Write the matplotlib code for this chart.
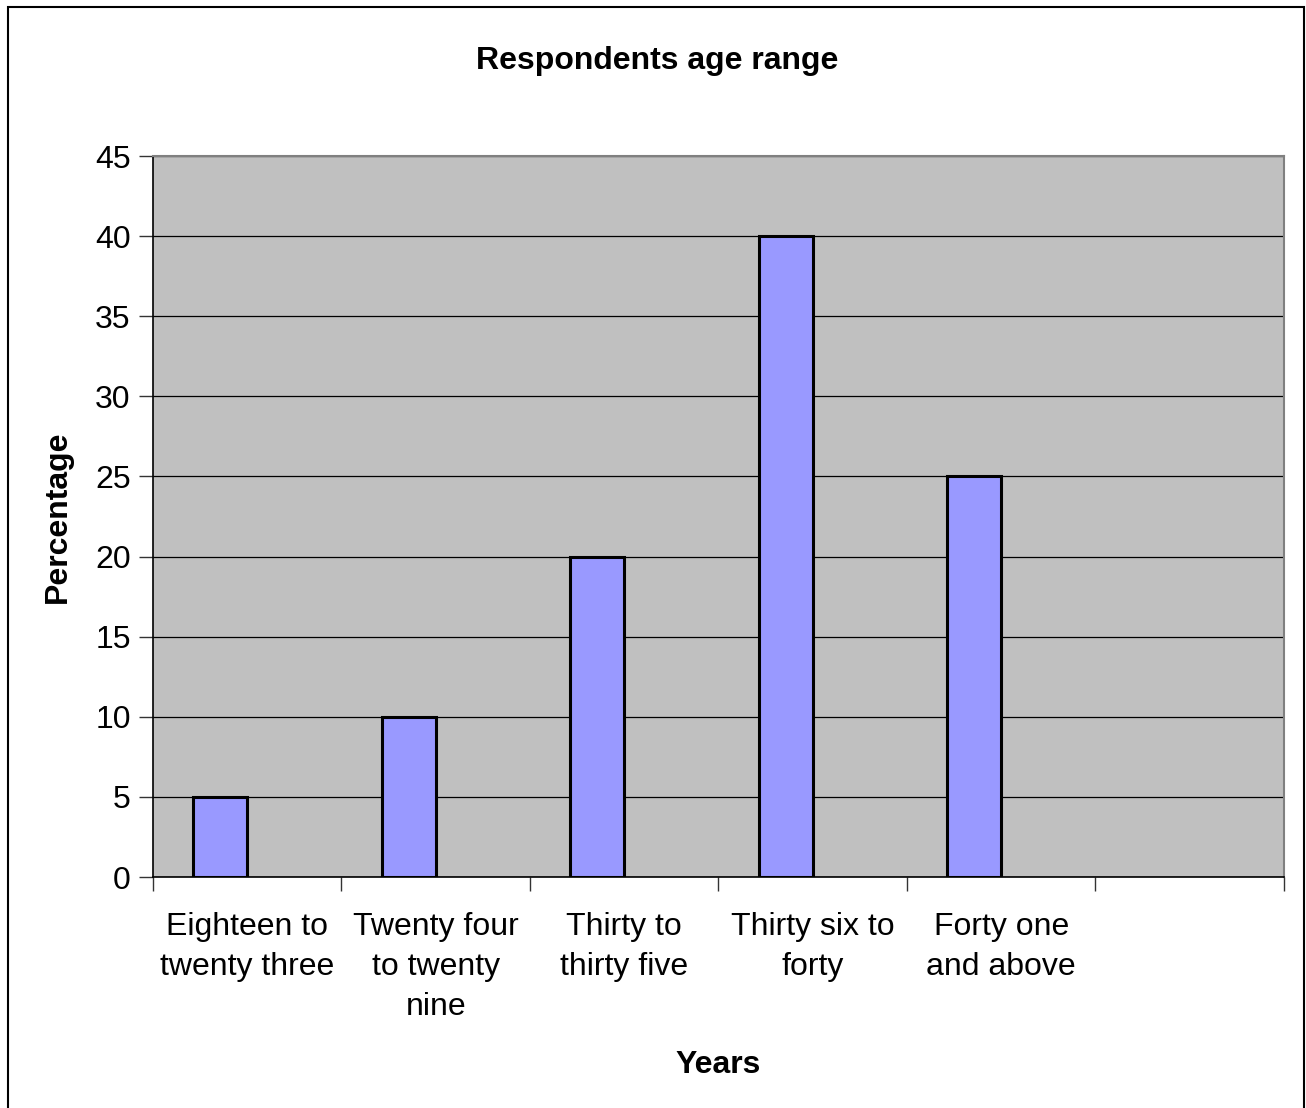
import matplotlib.pyplot as plt
from matplotlib.patches import Rectangle

plt.rcParams['font.family'] = ['Liberation Sans', 'DejaVu Sans']

# age groups and share of respondents (%)
categories = ["Eighteen to\ntwenty three", "Twenty four\nto twenty\nnine",
              "Thirty to\nthirty five", "Thirty six to\nforty",
              "Forty one\nand above", ""]
percent = [5, 10, 20, 40, 25]

fig = plt.figure(figsize=(13.06, 11.08), dpi=100)
ax = fig.add_axes([0.11715, 0.20848, 0.8660, 0.65072])
ax.set_facecolor('#C0C0C0')

# two-series style layout: bar sits just left of the slot centre
w = 1 / 3.5
slot = [i + 0.5 for i in range(len(categories))]
ax.bar([s - w / 2 for s in slot[:len(percent)]], percent, width=w,
       color='#9999FF', edgecolor='black', linewidth=2.2, zorder=3)

ax.set_xlim(0, len(categories))
ax.set_ylim(0, 45)
ax.set_yticks(range(0, 50, 5))
ax.yaxis.grid(True, color='black', linewidth=0.9, zorder=1)
ax.set_axisbelow(True)

ax.set_xticks(range(len(categories) + 1))
ax.set_xticklabels([])
ax.set_xticks(slot, minor=True)
ax.set_xticklabels(categories, minor=True, fontsize=23, linespacing=1.45,
                   va='top')
ax.tick_params(axis='x', which='minor', length=0, pad=25)
ax.tick_params(axis='x', which='major', length=10, width=1, color='#333333')
ax.tick_params(axis='y', length=10, width=1, labelsize=23, pad=6,
               color='#333333')

for side in ['left', 'bottom']:
    ax.spines[side].set_color('black')
    ax.spines[side].set_linewidth(1.2)
for side in ['top', 'right']:
    ax.spines[side].set_color('#808080')
    ax.spines[side].set_linewidth(1.5)

ax.set_ylabel("Percentage", fontsize=23, fontweight='bold', labelpad=16)
ax.set_xlabel("Years", fontsize=23, fontweight='bold', labelpad=20)
fig.text(0.5035, 0.9445, "Respondents age range", fontsize=23,
         fontweight='bold', ha='center', va='center')

# chart frame
fig.patches.append(Rectangle((8 / 1306, -0.01), 1296 / 1306, 1.01 - 7 / 1108,
                             transform=fig.transFigure, fill=False,
                             edgecolor='black', linewidth=1.5))

fig.savefig('out.png', dpi=100)
